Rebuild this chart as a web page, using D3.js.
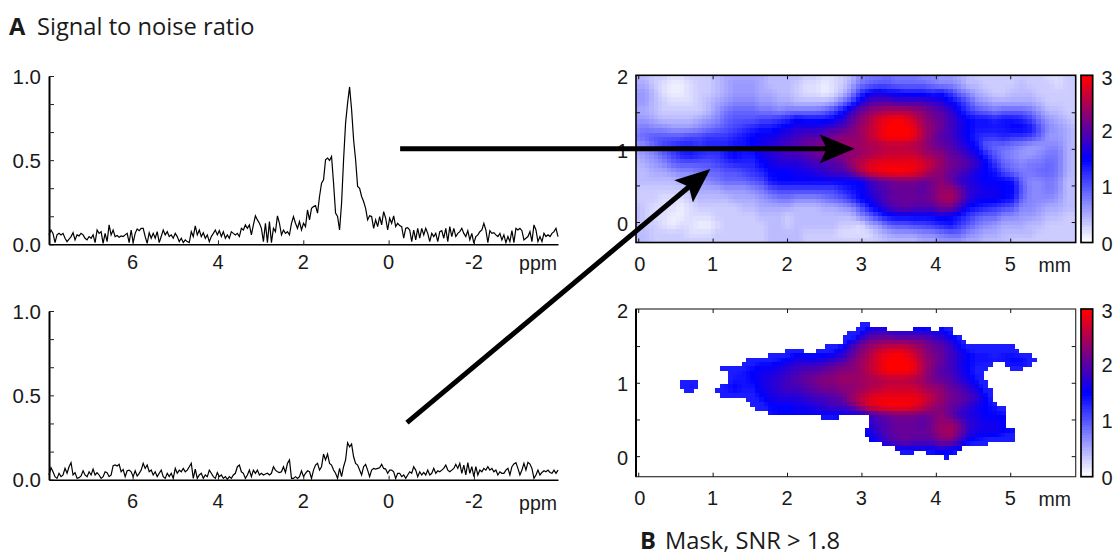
<!DOCTYPE html>
<html>
<head>
<meta charset="utf-8">
<script src="https://cdn.jsdelivr.net/npm/d3@7"></script>
<style>
body{margin:0;background:#fff;}
svg{display:block;}
text{font-family:"Liberation Sans",sans-serif;fill:#1a1a1a;}
.title{font-family:"Open Sans",sans-serif;font-size:23.7px;}
.title .bold{font-weight:700;}
</style>
</head>
<body>
<div id="chart"></div>
<script>
//Data
const ppmTicks = [6,4,2,0,-2];
const snrTicks = [0,0.5,1];
const mmTicks = [0,1,2,3,4,5];
const mapYTicks = [0,1,2];
const barTicks = [0,1,2,3];

const spectrumA = [
.056,.085,.065,.01,.056,.065,.056,.065,.036,.016,.03,.046,.069,.026,.056,.05,.065,.056,.036,.026,
.046,.036,.056,.01,.085,.065,.075,.006,.065,.016,.115,.056,.085,.046,.052,.042,.05,.046,.056,.065,
.01,.085,.01,.065,.091,.081,.095,.095,.046,.006,.069,.036,.065,.036,.075,.01,.046,.085,.056,.075,
.046,.056,.036,.065,.046,.016,.036,.01,.026,.016,.01,.075,.046,.109,.056,.085,.046,.069,.036,.056,
.016,.046,.065,.085,.056,.081,.046,.075,.036,.056,.036,.075,.065,.056,.065,.046,.095,.085,.115,.095,
.115,.056,.115,.169,.145,.125,.095,.016,.125,.01,.135,.01,.095,.075,.169,.125,.056,.085,.065,.075,
.056,.125,.165,.125,.095,.135,.085,.125,.105,.204,.145,.214,.224,.23,.185,.284,.363,.383,.502,.512,
.498,.522,.363,.185,.165,.085,.244,.502,.72,.839,.935,.8,.621,.502,.343,.333,.284,.254,.214,.145,
.169,.165,.095,.145,.105,.165,.115,.194,.155,.085,.155,.125,.169,.105,.125,.111,.105,.036,.095,.099,
.085,.016,.085,.026,.095,.036,.095,.056,.095,.065,.016,.065,.046,.065,.016,.075,.081,.036,.095,.016,
.105,.046,.095,.046,.065,.075,.095,.065,.046,.081,.026,.065,.006,.046,.056,.075,.085,.125,.085,.01,
.081,.065,.069,.056,.046,.065,.026,.056,.01,.046,.016,.081,.01,.095,.085,.095,.081,.026,.036,.046,
.075,.016,.115,.085,.016,.046,.016,.065,.046,.056,.046,.065,.075,.095,.046
];

const spectrumB = [
.028,.071,.047,.018,.008,.038,.018,.028,.067,.038,.077,.101,.028,.042,.008,.012,.022,.053,.028,.018,
.047,.028,.063,.028,.042,.028,.008,.018,.047,.042,.018,.028,.083,.087,.081,.091,.047,.061,.018,.053,
.057,.047,.018,.053,.022,.038,.057,.097,.067,.087,.047,.057,.028,.047,.018,.038,.057,.018,.008,.038,
.018,.038,.008,.067,.038,.057,.047,.067,.047,.057,.077,.097,.008,.063,.008,.028,.038,.008,.028,.018,
.057,.038,.018,.008,.042,.018,.028,.008,.018,.002,.018,.008,.028,.038,.077,.087,.047,.038,.008,.028,
.057,.018,.057,.038,.057,.028,.038,.028,.034,.038,.028,.038,.077,.057,.047,.042,.047,.077,.043,.097,
.117,.008,.008,.018,.008,.018,.053,.018,.038,.053,.047,.008,.057,.087,.097,.057,.077,.152,.117,.152,
.097,.087,.057,.038,.008,.067,.018,.077,.117,.219,.195,.211,.136,.097,.087,.057,.028,.077,.091,.057,
.018,.057,.067,.063,.067,.071,.091,.067,.063,.038,.057,.057,.047,.008,.038,.038,.018,.028,.008,.028,
.047,.038,.077,.057,.018,.047,.028,.043,.028,.057,.028,.038,.067,.038,.053,.047,.057,.067,.087,.057,
.047,.057,.067,.091,.067,.097,.038,.087,.028,.101,.038,.077,.018,.077,.028,.057,.047,.067,.057,.077,
.057,.067,.047,.057,.028,.047,.038,.038,.057,.067,.028,.077,.093,.101,.067,.028,.057,.097,.057,.103,
.093,.067,.008,.028,.057,.028,.043,.053,.047,.057,.043,.038,.057,.038,.057
];

// SNR map, rows from y = 2 mm down to y = -0.28 mm, columns from x = -0.03 to 5.88 mm
const snrMap = [
[.4,.4,.3,.3,.2,.2,.3,.3,.3,.4,.5,.5,.5,.5,.5,.4,.4,.4,.4,.3,.3,.2,.2,.3,.4,.7,.8,.8,.9,.8,.8,.8,.7,.7,.6,.6,.5,.4,.3,.3,.3,.3,.3,.3,.3,.3,.2,.2,.3,.3],
[.5,.5,.3,.2,.1,.1,.2,.3,.3,.4,.5,.6,.6,.6,.5,.4,.4,.4,.3,.2,.2,.1,.2,.3,.5,.8,.9,1,1,.9,.9,.9,.9,.8,.7,.7,.6,.4,.4,.3,.3,.3,.3,.4,.3,.3,.3,.2,.3,.3],
[.6,.6,.4,.2,.1,.1,.2,.3,.3,.4,.5,.6,.6,.6,.5,.5,.4,.4,.3,.2,.2,.1,.2,.4,.7,1.2,1.5,1.6,1.5,1.5,1.4,1.4,1.4,1.3,1.4,1.2,.9,.7,.5,.4,.3,.3,.4,.4,.4,.3,.3,.3,.3,.3],
[.6,.6,.4,.3,.2,.2,.2,.3,.4,.5,.6,.7,.7,.7,.6,.6,.5,.5,.4,.4,.4,.4,.5,.8,1.1,1.6,1.9,2,2,1.9,1.9,1.9,1.9,1.8,1.7,1.5,1.3,1,.7,.6,.5,.5,.5,.5,.5,.4,.3,.3,.3,.3],
[.5,.5,.4,.3,.3,.3,.3,.3,.4,.6,.8,.9,.9,.9,.8,.8,.7,.8,.8,.8,.8,.9,1.1,1.4,1.8,2.1,2.3,2.4,2.5,2.5,2.5,2.4,2.3,2.1,2,1.8,1.5,1.2,1,.9,.8,.9,.9,.9,.8,.6,.4,.4,.3,.3],
[.6,.6,.5,.4,.4,.4,.4,.5,.6,.7,.9,1,1,1,1.1,1.1,1.2,1.3,1.5,1.4,1.4,1.4,1.5,1.7,2,2.3,2.5,2.8,2.9,3,2.9,2.7,2.4,2.2,2.1,1.9,1.7,1.5,1.4,1.4,1.3,1.4,1.4,1.3,1.1,.8,.6,.5,.4,.3],
[.7,.8,.7,.7,.6,.6,.6,.7,.8,.9,1,1.1,1.2,1.3,1.4,1.4,1.5,1.6,1.7,1.7,1.7,1.8,1.9,2,2.2,2.4,2.6,2.8,3,3,3,2.9,2.5,2.3,2.1,1.9,1.7,1.5,1.4,1.4,1.4,1.4,1.5,1.5,1.4,1,.7,.6,.5,.4],
[.8,.9,1,1,1,1,1.1,1.1,1.2,1.2,1.2,1.3,1.4,1.5,1.6,1.6,1.7,1.8,1.9,2,2,2.1,2.2,2.3,2.3,2.4,2.6,2.8,3,3,3,2.9,2.5,2.2,2,1.9,1.7,1.5,1.3,1.2,1.2,1.3,1.2,1.2,1.1,.9,.6,.6,.5,.4],
[.6,.7,.9,1.1,1.2,1.3,1.3,1.2,1.3,1.3,1.3,1.4,1.4,1.5,1.6,1.7,1.8,1.9,2,2.1,2.2,2.3,2.3,2.4,2.4,2.4,2.5,2.5,2.6,2.6,2.6,2.5,2.4,2.2,2.1,2,1.8,1.6,1.4,1,.9,.9,.8,.7,.6,.6,.7,.7,.5,.4],
[.5,.6,.7,.9,1.1,1.3,1.4,1.3,1.2,1.2,1.4,1.5,1.4,1.4,1.6,1.7,1.8,1.9,1.9,2,2.1,2.2,2.2,2.3,2.3,2.4,2.5,2.6,2.7,2.7,2.7,2.7,2.5,2.4,2.3,2.1,2,1.8,1.6,1.3,1,.8,.7,.6,.6,.7,.8,.8,.5,.4],
[.4,.5,.6,.7,.9,1,1,1,1,1.1,1.2,1.3,1.3,1.3,1.5,1.6,1.7,1.7,1.7,1.8,1.9,1.9,2,2.1,2.4,2.6,2.8,2.9,2.9,2.9,2.9,2.9,2.8,2.6,2.4,2.2,2.1,2,1.8,1.5,1.2,.9,.8,.7,.8,.8,.9,.8,.5,.4],
[.4,.4,.5,.5,.6,.7,.7,.8,.9,.9,1,1,1.1,1.2,1.3,1.5,1.5,1.5,1.6,1.6,1.7,1.8,1.9,1.9,2.1,2.5,2.8,2.9,3,3,3,2.9,2.7,2.4,2.3,2.1,2,1.8,1.6,1.5,1.4,1.1,.9,.8,.8,.9,.9,.8,.5,.4],
[.4,.4,.4,.4,.4,.5,.5,.6,.7,.8,.9,.9,.9,1,1.1,1.4,1.5,1.5,1.5,1.5,1.5,1.5,1.5,1.5,1.5,1.5,1.8,2,2.1,2.2,2.2,2.2,2.1,2.2,2.3,2.1,1.8,1.7,1.6,1.5,1.5,1.5,1.4,.9,.7,.7,.8,.7,.4,.4],
[.3,.3,.3,.3,.3,.3,.4,.5,.5,.5,.6,.6,.6,.7,.8,1,1.1,1.1,1.1,1.1,1.1,1.1,1.1,1.3,1.4,1.5,1.7,1.9,2,2.1,2.1,2.1,2,2.2,2.4,2.4,2.2,1.8,1.7,1.6,1.6,1.5,1.5,1,.7,.7,.8,.7,.4,.4],
[.3,.3,.3,.2,.2,.2,.3,.4,.4,.4,.4,.5,.5,.5,.6,.7,.8,.8,.7,.7,.7,.8,.9,1,1.2,1.5,1.6,1.8,2,2.1,2.1,2.1,2.1,2.2,2.4,2.5,2.2,1.8,1.6,1.6,1.6,1.5,1.4,.9,.7,.7,.7,.6,.4,.4],
[.4,.3,.2,.2,.2,.1,.2,.3,.3,.3,.3,.3,.4,.4,.5,.5,.5,.5,.4,.4,.4,.5,.5,.6,.7,1,1.4,1.6,1.9,2,2.1,2,2,2,2.2,2.2,1.9,1.5,1.4,1.3,1.2,1.1,1,.7,.7,.6,.5,.5,.4,.4],
[.4,.3,.2,.2,.1,.1,.2,.2,.2,.3,.3,.3,.3,.3,.4,.4,.4,.3,.4,.4,.4,.4,.4,.4,.4,.7,.9,1.2,1.4,1.5,1.5,1.5,1.5,1.5,1.6,1.5,1.4,1.2,1,.9,.9,.7,.7,.6,.6,.5,.4,.4,.3,.3],
[.4,.3,.3,.2,.1,.2,.2,.1,.1,.2,.3,.3,.3,.3,.3,.4,.4,.3,.4,.4,.4,.4,.4,.3,.3,.2,.5,.6,.9,1,1,1.1,1.1,1.2,1.3,1.4,1.2,1,.8,.7,.6,.5,.5,.5,.4,.4,.3,.3,.3,.3],
[.4,.4,.3,.3,.3,.3,.2,.2,.2,.3,.3,.3,.3,.3,.3,.4,.4,.4,.4,.3,.3,.3,.3,.2,.2,.2,.2,.4,.5,.6,.6,.6,.7,.7,.8,.9,.9,.7,.6,.5,.5,.4,.4,.4,.4,.3,.3,.3,.3,.3],
[.4,.4,.3,.3,.3,.3,.3,.3,.3,.3,.3,.3,.3,.3,.3,.4,.4,.4,.4,.3,.3,.3,.3,.3,.3,.3,.3,.3,.4,.4,.4,.4,.5,.5,.6,.6,.6,.5,.5,.4,.4,.4,.3,.3,.3,.3,.3,.3,.3,.3]
];

// mask outline: for each image row (top to bottom) the x spans in mm that pass SNR > 1.8
const maskSpans = [
[],[],[],
[[2.96,3.11]],
[[2.94,3.34],[3.67,3.92],[4.05,4.2]],
[[2.83,4.25]],
[[2.76,4.32]],
[[2.76,4.39]],
[[2.49,5.04]],
[[1.97,2.24],[2.37,5.13]],
[[1.73,5.29]],
[[1.46,5.35]],
[[1.39,4.77],[4.93,5.29]],
[[1.12,4.7],[4.97,5.17]],
[[1.19,4.64]],
[[1.19,4.64]],
[[.55,.8],[1.19,4.7]],
[[.55,.79],[1.12,4.72]],
[[.6,.73],[1.05,4.77]],
[[1.12,4.78]],
[[1.46,4.78]],
[[1.52,4.84]],
[[1.59,4.96]],
[[1.73,4.96]],
[[2.44,2.69],[3.13,4.96]],
[[3.09,4.96]],
[[3.09,4.96]],
[[3.02,5.04]],
[[3.02,5.04]],
[[3.09,5.04]],
[[3.27,4.7]],
[[3.43,4.32]],
[[3.54,3.67],[3.87,4.26]],
[[4.12,4.19]],
[],[],[],[]
];

// arrows: start on a spectrum, end on the map
const arrowH = {ppm:-0.27, snr:0.568, mm:2.91, mmY:1};
const arrowD = {ppm:-0.43, snr:0.338, mm:0.97, mmY:0.726};

const svg = d3.select('#chart').append('svg').attr('width',1115).attr('height',555);

const colorScale = d3.scaleLinear().domain([0,1.5,3]).range(['#ffffff','#0000ff','#ff0000']);

function drawSpectrum(values,y0,y1,labelBase,ppmBase){
    const xScale = d3.scaleLinear().domain([7.96,-3.97]).range([49,558]);
    const yScale = d3.scaleLinear().domain([0,1]).range([y0,y1]);
    const g = svg.append('g');

    const step = (7.96+3.97)/(values.length-1);
    const line = d3.line().x((d,i)=>xScale(7.96-i*step)).y(d=>yScale(d));
    g.append('path').datum(values).attr('d',line)
        .attr('fill','none').attr('stroke','#000').attr('stroke-width',1.2);

    const yAxis = d3.axisLeft(yScale).tickValues(d3.range(0,7).map(d=>d/6)).tickSizeInner(-5).tickSizeOuter(0).tickFormat('');
    const yDraw = g.append('g').attr('transform','translate(49,0)').call(yAxis);
    yDraw.select('.domain').attr('stroke','#000').attr('stroke-width',2);
    yDraw.selectAll('line').attr('stroke','#222').attr('stroke-width',1);
    g.selectAll('.snrlabel').data(snrTicks).enter().append('text').attr('class','snrlabel')
        .attr('x',41).attr('y',d=>yScale(d)+ (d===1?1:0)).attr('dy','0.36em').attr('text-anchor','end')
        .style('font-size','20.5px').text(d=>d.toFixed(1));

    const xAxis = d3.axisBottom(xScale).tickValues(ppmTicks).tickSizeInner(-4).tickSizeOuter(0).tickFormat('');
    const xDraw = g.append('g').attr('transform',`translate(0,${y0})`).call(xAxis);
    xDraw.select('.domain').attr('stroke','#000').attr('stroke-width',1.6);
    xDraw.selectAll('line').attr('stroke','#222').attr('stroke-width',1);
    g.selectAll('.ppmlabel').data(ppmTicks).enter().append('text').attr('class','ppmlabel')
        .attr('x',d=>xScale(d)).attr('y',labelBase).attr('text-anchor','middle')
        .style('font-size','20px').text(d=>d);
    g.append('text').attr('x',557).attr('y',ppmBase).attr('text-anchor','end')
        .style('font-size','19.5px').text('ppm');
    return {xScale,yScale};
}

function drawMap(top,bottom,masked,labelBase){
    const xScale = d3.scaleLinear().domain([-0.03,5.88]).range([636,1075.7]);
    const yScale = d3.scaleLinear().domain([2,-0.28]).range([top+0.4,bottom]);
    const g = svg.append('g');

    // image cells
    const cols = d3.range(100), rows = d3.range(38);
    const cellX = d3.scaleBand().domain(cols).range([636,1075.7]);
    const cellY = d3.scaleBand().domain(rows).range([top,bottom]);
    const toCol = d3.scaleLinear().domain([0,100]).range([0,49]);
    const toRow = d3.scaleLinear().domain([0,38]).range([0,19]);

    function snrAt(i,j){
        const cx = toCol(i+0.5), cy = toRow(j+0.5);
        const c0 = Math.floor(cx), r0 = Math.floor(cy);
        const fx = cx-c0, fy = cy-r0;
        const upper = d3.interpolateNumber(snrMap[r0][c0],snrMap[r0][c0+1])(fx);
        const lower = d3.interpolateNumber(snrMap[r0+1][c0],snrMap[r0+1][c0+1])(fx);
        return d3.interpolateNumber(upper,lower)(fy);
    }

    let cells = [];
    rows.forEach(j=>cols.forEach(i=>{
        const mm = xScale.invert(cellX(i)+cellX.bandwidth()/2);
        if(masked && !maskSpans[j].some(s=>mm>=s[0] && mm<=s[1])) return;
        cells.push({i,j,v:snrAt(i,j)});
    }));
    g.selectAll('.cell').data(cells).enter().append('rect').attr('class','cell')
        .attr('x',d=>cellX(d.i)).attr('y',d=>cellY(d.j))
        .attr('width',cellX.bandwidth()+0.5).attr('height',cellY.bandwidth()+0.5)
        .attr('shape-rendering','crispEdges')
        .style('fill',d=>colorScale(masked ? Math.max(d.v,1.34) : d.v));

    // frame
    const lineColor = masked ? '#333' : '#000';
    const frameW = masked ? 1.2 : 1.6;
    g.append('rect').attr('x',636).attr('y',top).attr('width',439.7).attr('height',bottom-top)
        .attr('fill','none').attr('stroke',lineColor).attr('stroke-width',frameW);
    if(masked){
        g.append('line').attr('x1',636).attr('x2',636).attr('y1',top).attr('y2',bottom)
            .attr('stroke','#000').attr('stroke-width',2);
    }

    const minorY = [0,0.5,1,1.5];
    [[636,d3.axisLeft,-4],[1075.7,d3.axisRight,-4]].forEach(s=>{
        const ax = s[1](yScale).tickValues(minorY).tickSize(s[2]).tickFormat('');
        const a = g.append('g').attr('transform',`translate(${s[0]},0)`).call(ax);
        a.select('.domain').remove();
        a.selectAll('line').attr('stroke','#111').attr('stroke-width',1);
    });
    [[bottom,d3.axisBottom],[top,d3.axisTop]].forEach(s=>{
        const ax = s[1](xScale).tickValues(mmTicks).tickSize(-4).tickFormat('');
        const a = g.append('g').attr('transform',`translate(0,${s[0]})`).call(ax);
        a.select('.domain').remove();
        a.selectAll('line').attr('stroke','#111').attr('stroke-width',1);
    });

    g.selectAll('.mmlabel').data(mmTicks).enter().append('text').attr('class','mmlabel')
        .attr('x',d=>xScale(d)+(d===0?1.5:0)).attr('y',labelBase).attr('text-anchor','middle')
        .style('font-size','20px').text(d=>d);
    g.selectAll('.ylabel').data(mapYTicks).enter().append('text').attr('class','ylabel')
        .attr('x',628).attr('y',d=>yScale(d)+1.5).attr('dy','0.36em').attr('text-anchor','end')
        .style('font-size','20px').text(d=>d);
    g.append('text').attr('x',1071).attr('y',labelBase+1).attr('text-anchor','end')
        .style('font-size','19.5px').text('mm');

    // colour bar
    const barScale = d3.scaleLinear().domain([0,3]).range([bottom,top]);
    const steps = d3.range(0,64).map(d=>d/63*3);
    const barBand = d3.scaleBand().domain(steps).range([bottom,top]);
    g.selectAll('.barcell').data(steps).enter().append('rect').attr('class','barcell')
        .attr('x',1081).attr('width',11.7).attr('y',d=>barBand(d)).attr('height',barBand.bandwidth()+0.5)
        .attr('shape-rendering','crispEdges').style('fill',d=>colorScale(d));
    g.append('rect').attr('x',1081).attr('y',top).attr('width',11.7).attr('height',bottom-top)
        .attr('fill','none').attr('stroke','#000').attr('stroke-width',1.7);
    g.selectAll('.barlabel').data(barTicks).enter().append('text').attr('class','barlabel')
        .attr('x',1107).attr('y',d=>barScale(d)+(d===3?2:d===0?1:0)).attr('dy','0.36em').attr('text-anchor','middle')
        .style('font-size','20px').text(d=>d);
    return {xScale,yScale};
}

const specA = drawSpectrum(spectrumA,244.3,76,269,270);
const specB = drawSpectrum(spectrumB,479.7,311,508,510);
const mapA = drawMap(75.3,242.5,false,271);
drawMap(309,476.7,true,505);

// arrows
svg.append('defs').append('marker').attr('id','head')
    .attr('markerUnits','userSpaceOnUse').attr('markerWidth',36).attr('markerHeight',30)
    .attr('viewBox','0 0 36 30').attr('refX',15).attr('refY',15).attr('orient','auto')
    .append('path').attr('d','M0,0.5L35,15L0,29.5L7,15Z').attr('fill','#000');

function drawArrow(a,spec){
    const x1 = spec.xScale(a.ppm), y1 = spec.yScale(a.snr);
    const x2 = mapA.xScale(a.mm), y2 = mapA.yScale(a.mmY);
    const len = Math.hypot(x2-x1,y2-y1);
    // stop the shaft inside the head so the tip stays sharp
    const t = (len-20)/len;
    svg.append('line').attr('x1',x1).attr('y1',y1)
        .attr('x2',x1+(x2-x1)*t).attr('y2',y1+(y2-y1)*t)
        .attr('stroke','#000').attr('stroke-width',5)
        .attr('marker-end','url(#head)');
}
drawArrow(arrowH,specA);
drawArrow(arrowD,specB);

// panel titles
const titleA = svg.append('text').attr('class','title').attr('x',9).attr('y',35);
titleA.append('tspan').attr('class','bold').text('A');
titleA.append('tspan').attr('x',37).text('Signal to noise ratio');
const titleB = svg.append('text').attr('class','title').attr('x',640).attr('y',549);
titleB.append('tspan').attr('class','bold').text('B');
titleB.append('tspan').attr('x',665).text('Mask, SNR > 1.8');
</script>
</body>
</html>
